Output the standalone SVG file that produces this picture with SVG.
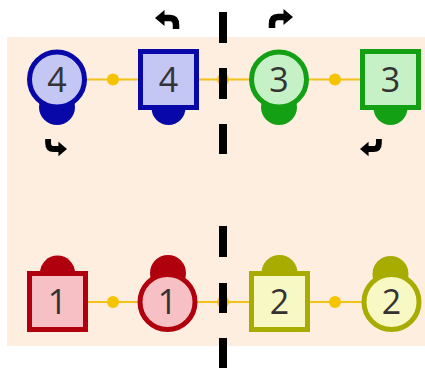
<svg xmlns="http://www.w3.org/2000/svg" width="425" height="368" viewBox="0 0 425 368">
<style>
.lbl{font-family:"Open Sans","Liberation Sans",sans-serif;font-size:34px;fill:#333;text-anchor:middle}
.sh{stroke-width:5}
.blue{stroke:#0808a8;fill:#c4c6f4}
.green{stroke:#14a014;fill:#c6f0c6}
.red{stroke:#b0000e;fill:#f6c0c4}
.olive{stroke:#a8ac00;fill:#f8f8c4}
.bblue{fill:#0808a8}.bgreen{fill:#14a014}.bred{fill:#b0000e}.bolive{fill:#a8ac00}
.wire{stroke:#f2c21a;stroke-width:2;fill:none}
.dot{fill:#f6c300}
.dash{fill:#000}
</style>
<defs>
<g id="arr">
<polygon points="0,0 9.5,-8 9.5,8" fill="#000"/>
<path d="M8,0 H15 Q21,0 21,7 V11" stroke="#000" stroke-width="6.5" fill="none"/>
</g>
</defs>
<rect x="7" y="37" width="418" height="309" fill="#fdeee0"/>
<g id="connectors">
<line class="wire" x1="57" y1="79.5" x2="390" y2="79.5"/>
<line class="wire" x1="57" y1="302" x2="391" y2="302"/>
<circle class="dot" cx="113" cy="79.5" r="6"/>
<circle class="dot" cx="223" cy="79.5" r="6"/>
<circle class="dot" cx="335" cy="79.5" r="6"/>
<circle class="dot" cx="113" cy="302" r="6"/>
<circle class="dot" cx="223" cy="302" r="6"/>
<circle class="dot" cx="335" cy="302" r="6"/>
</g>
<g id="divider">
<rect class="dash" x="219" y="12" width="8" height="31"/>
<rect class="dash" x="219" y="68" width="8" height="31"/>
<rect class="dash" x="219" y="124" width="8" height="30"/>
<rect class="dash" x="219" y="226" width="8" height="31"/>
<rect class="dash" x="219" y="283" width="8" height="30"/>
<rect class="dash" x="219" y="338" width="8" height="30"/>
</g>
<g id="arrows">
<use href="#arr" transform="translate(155,18)"/>
<use href="#arr" transform="translate(293,17) scale(-1,1)"/>
<use href="#arr" transform="translate(67,149) scale(-0.9,-0.9)"/>
<use href="#arr" transform="translate(360,149) scale(0.9,-0.9)"/>
</g>
<g id="node-c4">
<circle class="bblue" cx="57" cy="107" r="18"/>
<circle class="sh blue" cx="57" cy="79.5" r="27.5"/>
<text class="lbl" x="57" y="92">4</text>
</g>
<g id="node-s4">
<circle class="bblue" cx="168.5" cy="108" r="17"/>
<rect class="sh blue" x="140.5" y="51.5" width="56" height="56"/>
<text class="lbl" x="168.5" y="92">4</text>
</g>
<g id="node-c3">
<circle class="bgreen" cx="279" cy="107" r="18"/>
<circle class="sh green" cx="279" cy="79.5" r="27.5"/>
<text class="lbl" x="279" y="92">3</text>
</g>
<g id="node-s3">
<circle class="bgreen" cx="390.5" cy="108" r="17"/>
<rect class="sh green" x="362.5" y="51.5" width="56" height="56"/>
<text class="lbl" x="390.5" y="92">3</text>
</g>
<g id="node-s1">
<circle class="bred" cx="57.5" cy="273" r="17.5"/>
<rect class="sh red" x="29.5" y="273.5" width="56" height="56"/>
<text class="lbl" x="57.5" y="314">1</text>
</g>
<g id="node-c1">
<circle class="bred" cx="168" cy="273" r="18"/>
<circle class="sh red" cx="167.5" cy="302" r="27.5"/>
<text class="lbl" x="167.5" y="314">1</text>
</g>
<g id="node-s2">
<circle class="bolive" cx="279.5" cy="273" r="18"/>
<rect class="sh olive" x="251.5" y="273.5" width="56" height="56"/>
<text class="lbl" x="279.5" y="314">2</text>
</g>
<g id="node-c2">
<circle class="bolive" cx="390.5" cy="274" r="18"/>
<circle class="sh olive" cx="391.5" cy="302" r="27.5"/>
<text class="lbl" x="391.5" y="314">2</text>
</g>
</svg>
